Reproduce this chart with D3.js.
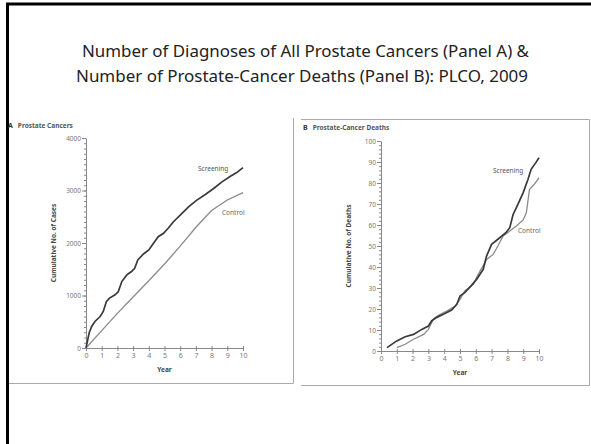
<!DOCTYPE html>
<html>
<head>
<meta charset="utf-8">
<script src="https://cdn.jsdelivr.net/npm/d3@7"></script>
<style>
  body { margin: 0; background: #fff; }
  text { font-family: "Noto Sans", sans-serif; }
</style>
</head>
<body>
<div id="chart"></div>
<script>
// panel A: cumulative cases
var yearsA_scr = [0, 0.2, 0.36, 0.57, 0.9, 1.1, 1.3, 1.5, 1.85, 2.06, 2.28, 2.6, 2.9, 3.1, 3.3, 3.66, 4.0, 4.3, 4.6, 4.94, 5.26, 5.57, 6.0, 6.53, 7.06, 7.6, 8.13, 8.66, 9.2, 9.6, 10];
var casesA_scr = [0, 285, 411, 506, 600, 696, 886, 950, 1013, 1076, 1266, 1392, 1456, 1519, 1677, 1791, 1867, 1994, 2120, 2184, 2291, 2405, 2532, 2690, 2816, 2924, 3038, 3165, 3272, 3342, 3437];
var yearsA_ctl = [0, 1, 2, 3, 4, 5, 6, 7, 8, 9, 10];
var casesA_ctl = [0, 330, 660, 970, 1280, 1600, 1940, 2300, 2620, 2820, 2960];

// panel B: cumulative deaths
var yearsB_scr = [0.38, 1.0, 1.53, 2.06, 2.58, 3.0, 3.2, 3.5, 3.95, 4.47, 4.8, 5.0, 5.3, 5.7, 6.05, 6.47, 6.68, 7.0, 7.4, 7.9, 8.15, 8.36, 8.57, 9.0, 9.3, 9.5, 9.8, 10.0];
var deathsB_scr = [1.6, 4.8, 6.8, 7.9, 10.3, 11.9, 14.3, 15.9, 17.5, 19.5, 22.2, 26.2, 27.8, 31, 34.1, 38.9, 45.2, 50.8, 53.2, 56.3, 58.7, 65, 68.3, 75.4, 81.7, 86.5, 89.7, 92];
var yearsB_ctl = [1.0, 1.53, 2.06, 2.7, 3.0, 3.3, 3.63, 4.16, 4.7, 5.0, 5.3, 5.84, 6.15, 6.7, 7.1, 7.4, 7.73, 8.15, 8.57, 9.0, 9.2, 9.4, 9.7, 10.0];
var deathsB_ctl = [1.6, 3.2, 5.6, 7.9, 10.3, 15, 17, 19, 21.4, 24.6, 28.6, 31.7, 36.5, 43.7, 46, 50, 54.8, 57.1, 59.5, 62.4, 65.9, 77, 79.4, 82.5];

var xTicks = [0, 1, 2, 3, 4, 5, 6, 7, 8, 9, 10];
var yTicksA = [0, 1000, 2000, 3000, 4000];
var yTicksB = [0, 10, 20, 30, 40, 50, 60, 70, 80, 90, 100];
var titleLines = ["Number of Diagnoses of All Prostate Cancers (Panel A) &",
                  "Number of Prostate-Cancer Deaths (Panel B): PLCO, 2009"];

var width = 591, height = 444;
var svg = d3.select("#chart").append("svg")
    .attr("width", width)
    .attr("height", height);

// slide frame
svg.append("line").attr("x1", 7.5).attr("x2", 7.5).attr("y1", 3).attr("y2", height)
  .attr("stroke", "#000").attr("stroke-width", 3);
svg.append("line").attr("x1", 6).attr("x2", width).attr("y1", 4).attr("y2", 4)
  .attr("stroke", "#000").attr("stroke-width", 3);

svg.selectAll(".title").data(titleLines).enter().append("text")
  .attr("class", "title")
  .attr("x", function(d, i) { return i ? 76 : 82; })
  .attr("y", function(d, i) { return i ? 82 : 57; })
  .attr("textLength", function(d, i) { return i ? 452 : 447; })
  .attr("lengthAdjust", "spacingAndGlyphs")
  .style("font-size", "15.5px")
  .attr("fill", "#222")
  .text(function(d) { return d; });

// panel borders
var gray = "#aaa";
svg.append("path").attr("d", "M293.5,118V383.5H9")
  .attr("fill", "none").attr("stroke", gray);
svg.append("path").attr("d", "M301,119.5H589.5V385.5H301")
  .attr("fill", "none").attr("stroke", gray);

function panel(opt) {
  var g = svg.append("g");
  var x = d3.scaleLinear().domain([0, 10]).range([opt.x0, opt.x1]);
  var y = d3.scaleLinear().domain([0, opt.ymax]).range([opt.y0, opt.y1]);

  // minor y ticks
  g.append("g")
    .attr("transform", "translate(" + opt.x0 + ",0)")
    .call(d3.axisLeft(y).tickValues(d3.range(0, opt.ymax + 1e-6, opt.minor)).tickSize(2).tickFormat(""))
    .call(function(a) { a.select(".domain").remove(); a.selectAll("line").attr("stroke", "#888"); });

  var ya = g.append("g")
    .attr("transform", "translate(" + opt.x0 + ",0)")
    .call(d3.axisLeft(y).tickValues(opt.yTicks).tickSize(4).tickPadding(1).tickSizeOuter(0).tickFormat(d3.format("d")));
  ya.select(".domain").attr("stroke", "#888");
  ya.selectAll("line").attr("stroke", "#888");
  ya.selectAll("text").attr("fill", "#777").style("font-size", "6.5px");

  var xa = g.append("g")
    .attr("transform", "translate(0," + opt.y0 + ")")
    .call(d3.axisBottom(x).tickValues(xTicks).tickSize(3).tickPadding(2).tickSizeOuter(0));
  xa.select(".domain").attr("stroke", "#888");
  xa.selectAll("line").attr("stroke", "#888").attr("y1", -2);
  xa.selectAll("text").attr("fill", "#777").style("font-size", "7px");

  g.append("text")
    .attr("x", (opt.x0 + opt.x1) / 2).attr("y", opt.y0 + 24)
    .attr("text-anchor", "middle")
    .style("font-size", "6.5px").style("font-weight", "bold").attr("fill", "#444")
    .text("Year");

  g.append("text")
    .attr("transform", "translate(" + opt.ylabX + "," + ((opt.y0 + opt.y1) / 2) + ") rotate(-90)")
    .attr("text-anchor", "middle")
    .style("font-size", "6.5px").style("font-weight", "bold").attr("fill", "#444")
    .text(opt.ylab);

  var head = g.append("text").attr("x", opt.hx).attr("y", opt.hy)
    .style("font-size", "6.5px").style("font-weight", "bold").attr("fill", "#333");
  head.append("tspan").style("font-size", "7px").text(opt.letter);
  head.append("tspan").attr("dx", 5).attr("fill", "#555").text(opt.head);

  var line = d3.line()
    .x(function(d) { return x(d[0]); })
    .y(function(d) { return y(d[1]); });

  g.append("path").datum(d3.zip(opt.ctlX, opt.ctlY))
    .attr("d", line).attr("fill", "none")
    .attr("stroke", "#8a8a8a").attr("stroke-width", 1.3);
  g.append("path").datum(d3.zip(opt.scrX, opt.scrY))
    .attr("d", line).attr("fill", "none")
    .attr("stroke", "#3a3a3a").attr("stroke-width", 1.7);

  g.append("text").attr("x", opt.scrLab[0]).attr("y", opt.scrLab[1])
    .style("font-size", "6.5px").attr("fill", "#555").text("Screening");
  g.append("text").attr("x", opt.ctlLab[0]).attr("y", opt.ctlLab[1])
    .style("font-size", "6.5px").attr("fill", "#666").text("Control");
}

panel({
  x0: 86, x1: 243, y0: 348, y1: 138, ymax: 4000, minor: 100, yTicks: yTicksA,
  ylab: "Cumulative No. of Cases", ylabX: 56,
  letter: "A", head: "Prostate Cancers", hx: 8, hy: 128,
  scrX: yearsA_scr, scrY: casesA_scr, ctlX: yearsA_ctl, ctlY: casesA_ctl,
  scrLab: [198, 171], ctlLab: [222, 215]
});

panel({
  x0: 381, x1: 539, y0: 351, y1: 141, ymax: 100, minor: 2, yTicks: yTicksB,
  ylab: "Cumulative No. of Deaths", ylabX: 351,
  letter: "B", head: "Prostate-Cancer Deaths", hx: 303, hy: 130,
  scrX: yearsB_scr, scrY: deathsB_scr, ctlX: yearsB_ctl, ctlY: deathsB_ctl,
  scrLab: [493, 173], ctlLab: [518, 233]
});
</script>
</body>
</html>
